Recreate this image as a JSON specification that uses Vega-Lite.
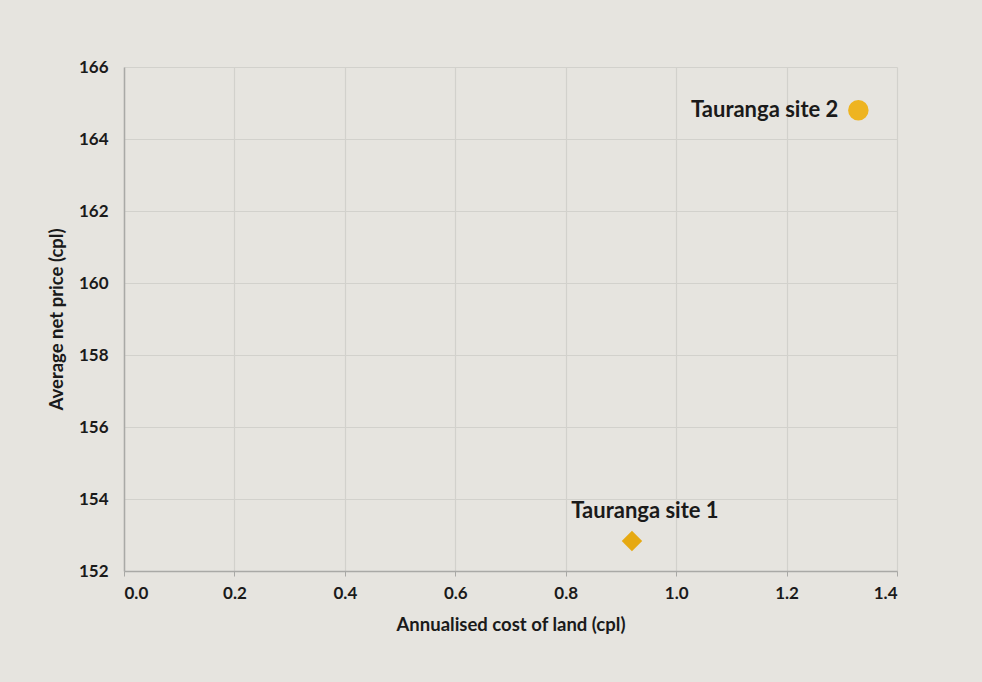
{
  "$schema": "https://vega.github.io/schema/vega-lite/v6.json",
  "autosize": "none",
  "width": 773,
  "height": 504,
  "padding": {"left": 124, "top": 67, "right": 85, "bottom": 111},
  "background": "#e6e4df",
  "config": {
    "view": {"stroke": null},
    "font": "Lato",
    "axis": {
      "labelFont": "Lato",
      "titleFont": "Lato",
      "labelFontSize": 17,
      "labelFontWeight": "bold",
      "labelColor": "#1a1a1a",
      "titleFontSize": 18.5,
      "titleFontWeight": "bold",
      "titleColor": "#1a1a1a",
      "gridColor": "#d2d1cc",
      "gridWidth": 1.2,
      "domainColor": "#a9a9a6",
      "domainWidth": 1.5,
      "tickColor": "#a9a9a6"
    }
  },
  "data": {
    "values": [
      {"site": "Tauranga site 1", "cost": 0.92, "price": 152.83, "marker": "diamond"},
      {"site": "Tauranga site 2", "cost": 1.33, "price": 164.8, "marker": "circle"}
    ]
  },
  "encoding": {
    "x": {
      "field": "cost",
      "type": "quantitative",
      "scale": {"domain": [0, 1.4], "nice": false},
      "axis": {
        "title": "Annualised cost of land (cpl)",
        "values": [0, 0.2, 0.4, 0.6, 0.8, 1.0, 1.2, 1.4],
        "format": ".1f",
        "tickSize": 5,
        "labelPadding": 9,
        "titlePadding": 14
      }
    },
    "y": {
      "field": "price",
      "type": "quantitative",
      "scale": {"domain": [152, 166], "nice": false, "zero": false},
      "axis": {
        "title": "Average net price (cpl)",
        "values": [152, 154, 156, 158, 160, 162, 164, 166],
        "ticks": false,
        "labelPadding": 16,
        "titlePadding": 12
      }
    }
  },
  "layer": [
    {
      "transform": [{"filter": "datum.marker === 'diamond'"}],
      "mark": {"type": "point", "shape": "diamond", "filled": true, "size": 420, "color": "#e6a912", "opacity": 1}
    },
    {
      "transform": [{"filter": "datum.marker === 'circle'"}],
      "mark": {"type": "point", "shape": "circle", "filled": true, "size": 420, "color": "#eeb421", "opacity": 1}
    },
    {
      "transform": [{"filter": "datum.marker === 'diamond'"}],
      "mark": {"type": "text", "fontSize": 22, "fontWeight": "bold", "color": "#1a1a1a", "align": "center", "baseline": "alphabetic", "dx": 13, "dy": -23},
      "encoding": {"text": {"field": "site"}}
    },
    {
      "transform": [{"filter": "datum.marker === 'circle'"}],
      "mark": {"type": "text", "fontSize": 22, "fontWeight": "bold", "color": "#1a1a1a", "align": "right", "baseline": "middle", "dx": -20, "dy": 0},
      "encoding": {"text": {"field": "site"}}
    }
  ]
}
